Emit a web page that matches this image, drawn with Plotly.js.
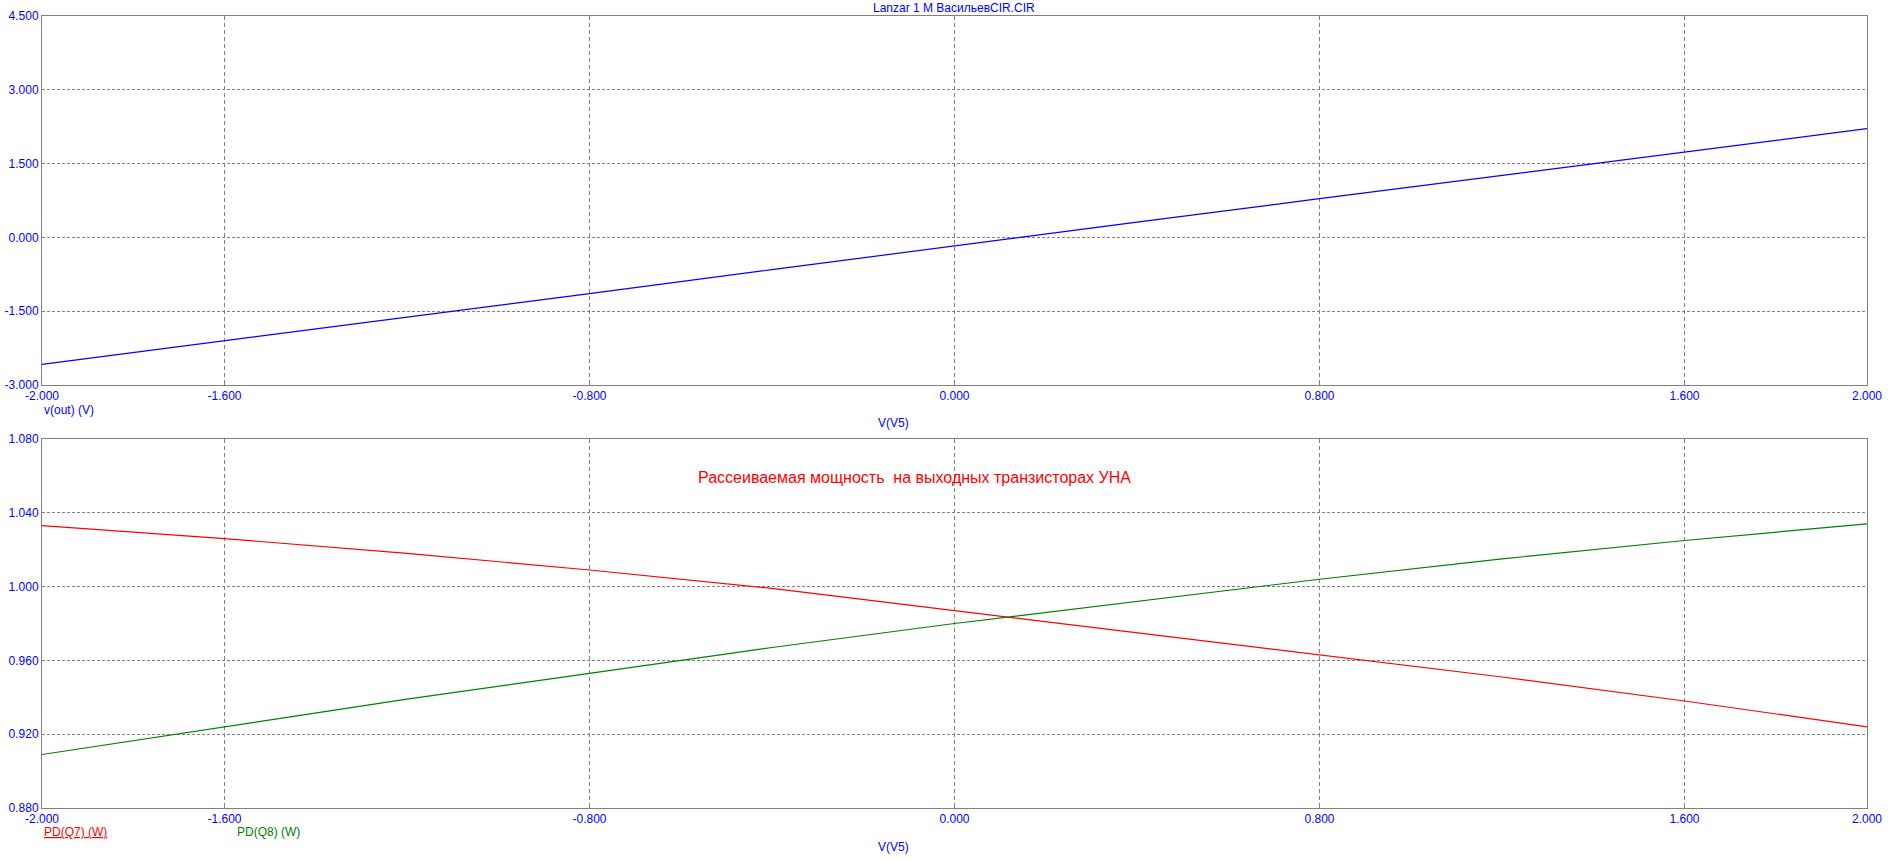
<!DOCTYPE html>
<html>
<head>
<meta charset="utf-8">
<script src="https://cdn.plot.ly/plotly-3.0.1.min.js"></script>
<style>html,body{margin:0;padding:0;background:#fff;}#chart{width:1899px;height:860px;}</style>
</head>
<body>
<div id="chart"></div>
<script>
// Sweep values V(V5)
const vV5 = [-2.0, -1.6, -1.2, -0.8, -0.4, 0.0, 0.4, 0.8, 1.2, 1.6, 2.0];
// Top plot: v(out) (V)
const vOut = [-2.579, -2.105, -1.625, -1.144, -0.656, -0.168, 0.31, 0.787, 1.262, 1.736, 2.21];
// Bottom plot: dissipated power
const pdQ7 = [1.033, 1.026, 1.018, 1.009, 0.999, 0.987, 0.975, 0.963, 0.951, 0.938, 0.924];
const pdQ8 = [0.909, 0.924, 0.939, 0.953, 0.967, 0.980, 0.992, 1.004, 1.015, 1.025, 1.034];

const xTicks = [-2.0, -1.6, -0.8, 0.0, 0.8, 1.6, 2.0];
const xTickText = ['-2.000', '-1.600', '-0.800', '0.000', '0.800', '1.600', '2.000'];
const yTopTicks = [-3.0, -1.5, 0.0, 1.5, 3.0, 4.5];
const yTopText = ['-3.000', '-1.500', '0.000', '1.500', '3.000', '4.500'];
const yBotTicks = [0.88, 0.92, 0.96, 1.00, 1.04, 1.08];
const yBotText = ['0.880', '0.920', '0.960', '1.000', '1.040', '1.080'];

const titleText = 'Lanzar 1 M ВасильевCIR.CIR';
const noteText = 'Рассеиваемая мощность  на выходных транзисторах УНА';
const xLabel = 'V(V5)';
const yTopLabel = 'v(out) (V)';
const q7Label = 'PD(Q7) (W)';
const q8Label = 'PD(Q8) (W)';

const FONT = 'Arial, "Liberation Sans", sans-serif';
const BLUE = '#0000ff';
const GRAY = '#808080';

const xBase = {
  range: [-2, 2], tickvals: xTicks, ticktext: xTickText,
  showline: true, mirror: true, linecolor: GRAY, linewidth: 1,
  showgrid: true, gridcolor: GRAY, griddash: '4px,3px', gridwidth: 1,
  zeroline: false, ticks: 'inside', ticklen: 3, tickcolor: GRAY,
  tickfont: {family: FONT, size: 12, color: BLUE}, fixedrange: true
};
const yBase = {
  showline: true, mirror: true, linecolor: GRAY, linewidth: 1,
  showgrid: true, gridcolor: GRAY, griddash: '3px,2px', gridwidth: 1,
  zeroline: false, ticks: '', tickfont: {family: FONT, size: 12, color: BLUE},
  fixedrange: true
};

const data = [
  {x: vV5, y: vOut, xaxis: 'x', yaxis: 'y', mode: 'lines', line: {color: BLUE, width: 1.2}, name: yTopLabel},
  {x: vV5, y: pdQ7, xaxis: 'x2', yaxis: 'y2', mode: 'lines', line: {color: '#ff0000', width: 1.2}, name: q7Label},
  {x: vV5, y: pdQ8, xaxis: 'x2', yaxis: 'y2', mode: 'lines', line: {color: '#008000', width: 1.2}, name: q8Label}
];

const ann = (text, x, y, color, xanchor, extra) => Object.assign({
  text: text, xref: 'paper', yref: 'paper', x: x, y: y, showarrow: false,
  xanchor: xanchor, yanchor: 'middle', font: {family: FONT, size: 12, color: color}
}, extra || {});

// paper coords: plot area x 42..1867, y 16..808 (height 792)
const px = v => (v - 42) / 1825;
const py = v => (808 - v) / 792;

const layout = {
  width: 1899, height: 860,
  margin: {l: 42, r: 32, t: 16, b: 52, pad: 0},
  paper_bgcolor: '#ffffff', plot_bgcolor: '#ffffff',
  showlegend: false,
  title: {text: titleText, font: {family: FONT, size: 12, color: BLUE}, x: 0.5023, xanchor: 'center', y: 0.9907, yanchor: 'middle'},
  xaxis: Object.assign({}, xBase, {anchor: 'y', domain: [0, 1]}),
  yaxis: Object.assign({}, yBase, {anchor: 'x', domain: [0.5341, 1], range: [-3, 4.5], tickvals: yTopTicks, ticktext: yTopText}),
  xaxis2: Object.assign({}, xBase, {anchor: 'y2', domain: [0, 1]}),
  yaxis2: Object.assign({}, yBase, {anchor: 'x2', domain: [0, 0.4659], range: [0.88, 1.08], tickvals: yBotTicks, ticktext: yBotText}),
  annotations: [
    ann(yTopLabel, px(42), py(410), BLUE, 'left'),
    ann(xLabel, px(893), py(423), BLUE, 'center'),
    ann(xLabel, px(893), py(847), BLUE, 'center'),
    ann('<u>' + q7Label + '</u>', px(42), py(832), '#ff0000', 'left'),
    ann(q8Label, px(235), py(832), '#008000', 'left'),
    {text: noteText, xref: 'paper', yref: 'paper', x: px(914), y: py(477), showarrow: false,
     xanchor: 'center', yanchor: 'middle', font: {family: FONT, size: 16, color: '#ff0000'}}
  ]
};

Plotly.newPlot('chart', data, layout, {displayModeBar: false, staticPlot: true});
</script>
</body>
</html>
